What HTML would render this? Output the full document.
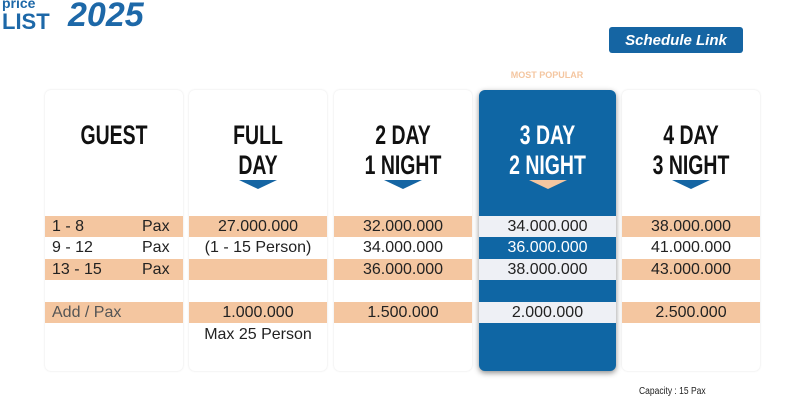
<!DOCTYPE html>
<html><head><meta charset="utf-8"><style>
body{margin:0;width:789px;height:407px;background:#fff;position:relative;overflow:hidden;font-family:"Liberation Sans",sans-serif}
.a{position:absolute}
.card{position:absolute;top:90px;height:281px;width:138px;background:#fff;border-radius:6px;box-shadow:0 0 2px rgba(0,0,0,.12)}
.h{position:absolute;left:0;width:100%;text-align:center;font-weight:bold;font-size:27px;line-height:30px;color:#111;transform:scaleX(.72)}
.tri{position:absolute;width:0;height:0;border-left:19px solid transparent;border-right:19px solid transparent;border-top:9px solid #1565a3;top:90px;left:50px}
.row{position:absolute;left:0;width:100%;height:21px;font-size:16px;line-height:22px;color:#222;text-align:center}
.o{background:#f4c6a0}
.w{background:#eef0f5}
</style></head><body>
<div class="a" style="left:2px;top:-5px;color:#1d68a8;font:bold 14px 'Liberation Sans',sans-serif">price</div>
<div class="a" style="left:2px;top:9px;color:#1d68a8;font:bold 22px 'Liberation Sans',sans-serif">LIST</div>
<div class="a" style="left:68px;top:-4px;color:#1d68a8;font:italic bold 34px 'Liberation Sans',sans-serif">2025</div>
<div class="a" style="left:609px;top:27px;width:134px;height:26px;background:#1565a3;border-radius:3px;color:#fff;font:italic bold 15px 'Liberation Sans',sans-serif;text-align:center;line-height:27px">Schedule Link</div>
<div class="a" style="left:478px;top:70px;width:138px;text-align:center;color:#f4c6a0;font:bold 9px 'Liberation Sans',sans-serif">MOST POPULAR</div>

<div class="card" style="left:45px">
<div class="h" style="top:30px">GUEST</div>
<div class="row o" style="top:126px;text-align:left"><span style="padding-left:7px">1 - 8</span><span class="a" style="left:97px">Pax</span></div>
<div class="row" style="top:147px;text-align:left"><span style="padding-left:7px">9 - 12</span><span class="a" style="left:97px">Pax</span></div>
<div class="row o" style="top:169px;text-align:left"><span style="padding-left:7px">13 - 15</span><span class="a" style="left:97px">Pax</span></div>
<div class="row o" style="top:212px;text-align:left;color:#555"><span style="padding-left:7px">Add / Pax</span></div>
</div>

<div class="card" style="left:189px">
<div class="h" style="top:30px">FULL<br>DAY</div><div class="tri"></div>
<div class="row o" style="top:126px">27.000.000</div>
<div class="row" style="top:147px">(1 - 15 Person)</div>
<div class="row o" style="top:169px"></div>
<div class="row o" style="top:212px">1.000.000</div>
<div class="row" style="top:234px">Max 25 Person</div>
</div>

<div class="card" style="left:334px">
<div class="h" style="top:30px">2 DAY<br>1 NIGHT</div><div class="tri"></div>
<div class="row o" style="top:126px">32.000.000</div>
<div class="row" style="top:147px">34.000.000</div>
<div class="row o" style="top:169px">36.000.000</div>
<div class="row o" style="top:212px">1.500.000</div>
</div>

<div class="card" style="left:622px">
<div class="h" style="top:30px">4 DAY<br>3 NIGHT</div><div class="tri"></div>
<div class="row o" style="top:126px">38.000.000</div>
<div class="row" style="top:147px">41.000.000</div>
<div class="row o" style="top:169px">43.000.000</div>
<div class="row o" style="top:212px">2.500.000</div>
</div>

<div class="card" style="left:479px;top:90px;height:281px;width:137px;background:#0f66a4;box-shadow:0 2px 6px rgba(0,0,0,.45)">
<div class="h" style="top:30px;color:#fff">3 DAY<br>2 NIGHT</div><div class="tri" style="border-top-color:#f4c6a0"></div>
<div class="row w" style="top:126px">34.000.000</div>
<div class="row" style="top:147px;color:#fff">36.000.000</div>
<div class="row w" style="top:169px">38.000.000</div>
<div class="row w" style="top:212px">2.000.000</div>
</div>

<div class="a" style="left:639px;top:386px;font:10px 'Liberation Sans',sans-serif;color:#222;transform:scaleX(.85);transform-origin:left">Capacity : 15 Pax</div>
</body></html>
